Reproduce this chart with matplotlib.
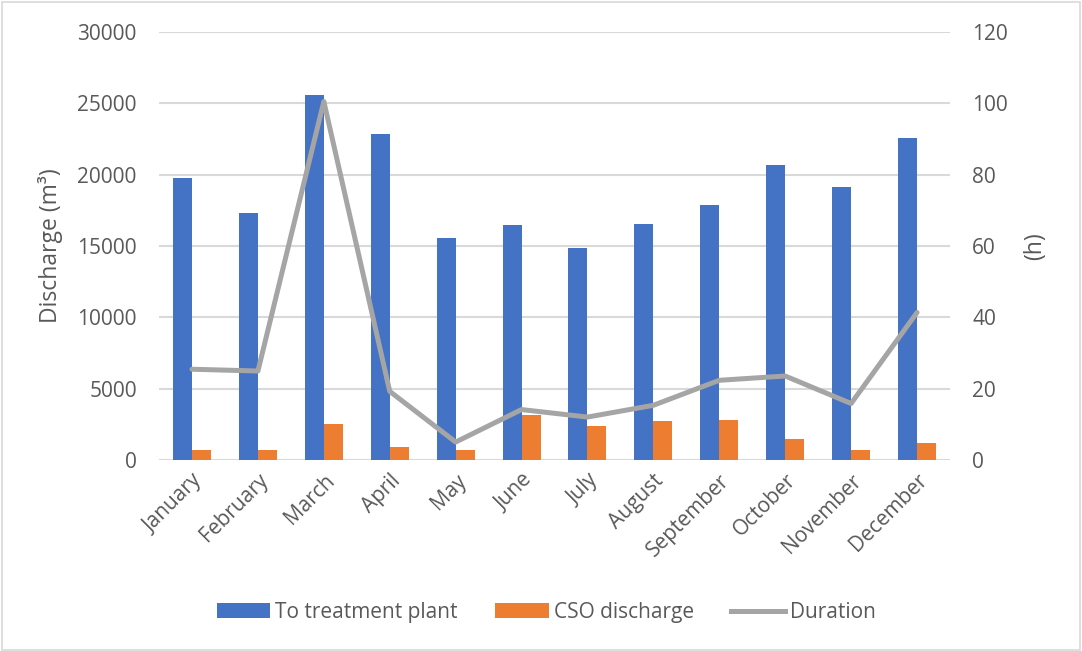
import matplotlib
matplotlib.use("Agg")
import matplotlib.pyplot as plt
from matplotlib.patches import Rectangle
from matplotlib.lines import Line2D
from matplotlib.patches import Patch
import numpy as np

plt.rcParams['font.family'] = ['Open Sans', 'DejaVu Sans']

months = ["January", "February", "March", "April", "May", "June", "July",
          "August", "September", "October", "November", "December"]
to_plant = [19800, 17350, 25550, 22850, 15550, 16450, 14850, 16550, 17900, 20650, 19150, 22550]
cso = [700, 700, 2570, 935, 750, 3150, 2380, 2780, 2800, 1520, 700, 1215]
duration = [25.5, 25.0, 100.5, 19.3, 5.1, 14.2, 12.1, 15.4, 22.4, 23.6, 15.9, 41.4]

left_ticks = [0, 5000, 10000, 15000, 20000, 25000, 30000]
right_ticks = [0, 20, 40, 60, 80, 100, 120]

BLUE = "#4472C4"
ORANGE = "#ED7D31"
GREY = "#A5A5A5"
TEXT = "#595959"
GRID = "#D9D9D9"

fig = plt.figure(figsize=(10.82, 6.51), dpi=100)
fig.patches.append(Rectangle((0.002, 0.002), 0.996, 0.995, transform=fig.transFigure,
                             fill=False, edgecolor="#D9D9D9", linewidth=1.2))

ax = fig.add_axes([0.147, 0.293, 0.731, 0.658])
x = np.arange(len(months))
w = 0.288
ax.bar(x - w / 2, to_plant, width=w, color=BLUE, zorder=2, label="To treatment plant")
ax.bar(x + w / 2, cso, width=w, color=ORANGE, zorder=2, label="CSO discharge")
ax.set_xlim(-0.5, len(months) - 0.5)
ax.set_ylim(0, 30000)
ax.set_yticks(left_ticks)
ax.set_yticklabels([str(t) for t in left_ticks])
ax.yaxis.grid(True, color=GRID, linewidth=1.5, zorder=0)
ax.set_axisbelow(True)
for s in ax.spines.values():
    s.set_visible(False)
ax.tick_params(axis='y', length=0, pad=16, labelsize=15, labelcolor=TEXT)
ax.tick_params(axis='x', length=0, pad=7, labelsize=15, labelcolor=TEXT)
ax.set_xticks(x)
ax.set_xticklabels(months, rotation=45, ha='right', rotation_mode='anchor')
ax.set_ylabel("Discharge (m³)", fontsize=16.5, color=TEXT, labelpad=10)

ax2 = ax.twinx()
ax2.plot(x, duration, color=GREY, linewidth=3.6, solid_capstyle='round', zorder=3)
ax2.set_ylim(0, 120)
ax2.set_yticks(right_ticks)
ax2.set_yticklabels([str(t) for t in right_ticks])
for s in ax2.spines.values():
    s.set_visible(False)
ax2.tick_params(axis='y', length=0, pad=16, labelsize=15, labelcolor=TEXT)
ax2.set_ylabel("(h)", fontsize=16.5, color=TEXT, labelpad=11)

handles = [Patch(facecolor=BLUE, label="To treatment plant"),
           Patch(facecolor=ORANGE, label="CSO discharge"),
           Line2D([0], [0], color=GREY, linewidth=3.6, label="Duration")]
fig.legend(handles=handles, loc='center', bbox_to_anchor=(0.505, 0.059), ncol=3,
           frameon=False, fontsize=15, labelcolor=TEXT, handlelength=2.55,
           handleheight=0.75, columnspacing=1.8, handletextpad=0.25)

fig.savefig("out.png", dpi=100)
